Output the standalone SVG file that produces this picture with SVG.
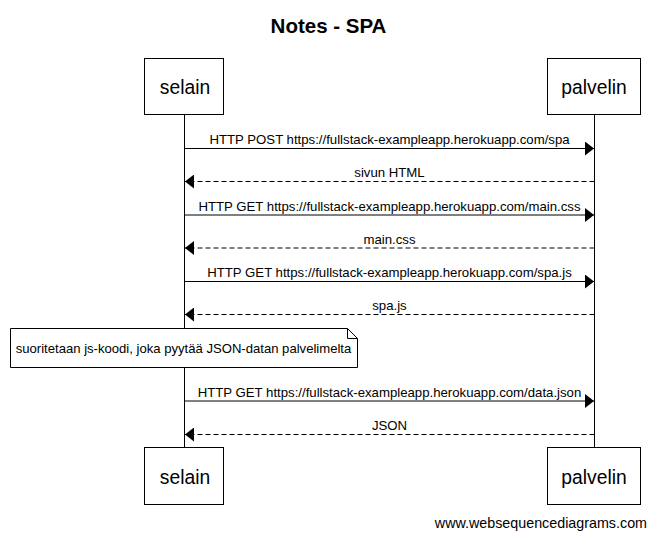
<svg xmlns="http://www.w3.org/2000/svg" width="656" height="538" viewBox="0 0 656 538">
<style>
text{font-family:"Liberation Sans",Arial,sans-serif;fill:#000}
.box{fill:#fff;stroke:#000;stroke-width:1}
.life{stroke:#000;stroke-width:1}
.pl{font-size:19.3px;text-anchor:middle}
.msg{stroke:#000;stroke-width:1;fill:none}
.dash{stroke-dasharray:5,3}
.lbl{font-size:13.2px;text-anchor:middle}
</style>
<defs>
<marker id="ah" markerWidth="10" markerHeight="14" refX="9" refY="7" orient="auto" markerUnits="userSpaceOnUse">
<path d="M0,0 L9,7 L0,14 Z" fill="#000"/>
</marker>
</defs>
<rect width="656" height="538" fill="#fff"/>
<text x="328.5" y="33" font-size="20.5" font-weight="bold" text-anchor="middle">Notes - SPA</text>
<g id="lifelines">
<line class="life" x1="184.5" y1="115" x2="184.5" y2="448"/>
<line class="life" x1="594.5" y1="115" x2="594.5" y2="448"/>
</g>
<g id="selain">
<rect class="box" x="144.5" y="58.5" width="79" height="56"/>
<text class="pl" x="185" y="94">selain</text>
</g>
<g id="palvelin">
<rect class="box" x="547.5" y="58.5" width="93" height="56"/>
<text class="pl" x="594" y="94">palvelin</text>
</g>
<g id="connectors">
<line class="msg" x1="184.5" y1="148.5" x2="594" y2="148.5" marker-end="url(#ah)"/>
<text class="lbl" x="389.5" y="144">HTTP POST https://fullstack-exampleapp.herokuapp.com/spa</text>
<line class="msg dash" x1="594.5" y1="181.5" x2="185" y2="181.5" marker-end="url(#ah)"/>
<text class="lbl" x="389.5" y="177">sivun HTML</text>
<line class="msg" x1="184.5" y1="215" x2="594" y2="215" marker-end="url(#ah)"/>
<text class="lbl" x="389.5" y="210.5">HTTP GET https://fullstack-exampleapp.herokuapp.com/main.css</text>
<line class="msg dash" x1="594.5" y1="248" x2="185" y2="248" marker-end="url(#ah)"/>
<text class="lbl" x="389.5" y="243.5">main.css</text>
<line class="msg" x1="184.5" y1="281.5" x2="594" y2="281.5" marker-end="url(#ah)"/>
<text class="lbl" x="389.5" y="277">HTTP GET https://fullstack-exampleapp.herokuapp.com/spa.js</text>
<line class="msg dash" x1="594.5" y1="314.5" x2="185" y2="314.5" marker-end="url(#ah)"/>
<text class="lbl" x="389.5" y="310">spa.js</text>
<line class="msg" x1="184.5" y1="401" x2="594" y2="401" marker-end="url(#ah)"/>
<text class="lbl" x="389.5" y="396.5">HTTP GET https://fullstack-exampleapp.herokuapp.com/data.json</text>
<line class="msg dash" x1="594.5" y1="434.5" x2="185" y2="434.5" marker-end="url(#ah)"/>
<text class="lbl" x="389.5" y="430">JSON</text>
</g>
<g id="note">
<path class="box" d="M10.5,328.5 H347.5 L357.5,338.5 V367.5 H10.5 Z"/>
<path d="M347.5,328.5 V338.5 H357.5" fill="none" stroke="#000" stroke-width="1"/>
<text x="183.5" y="353" font-size="13.1" text-anchor="middle">suoritetaan js-koodi, joka pyytää JSON-datan palvelimelta</text>
</g>
<g id="selain-bottom">
<rect class="box" x="144.5" y="447.5" width="79" height="57"/>
<text class="pl" x="185" y="483.5">selain</text>
</g>
<g id="palvelin-bottom">
<rect class="box" x="547.5" y="447.5" width="93" height="57"/>
<text class="pl" x="594" y="483.5">palvelin</text>
</g>
<text x="647" y="528" font-size="14.3" text-anchor="end">www.websequencediagrams.com</text>
</svg>
